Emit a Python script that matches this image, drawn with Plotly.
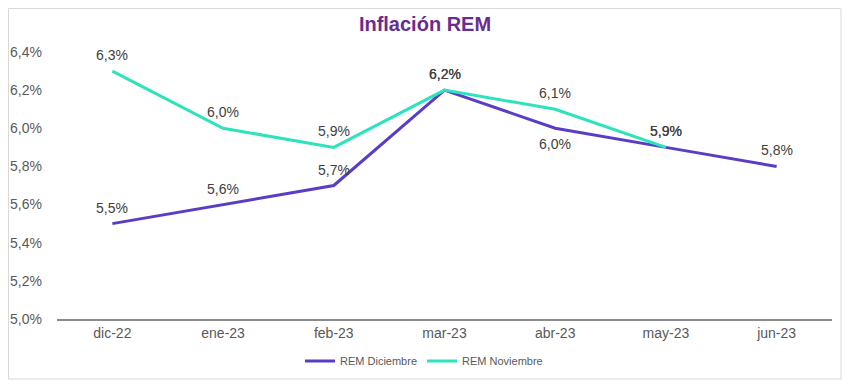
import plotly.graph_objects as go

categories = ["dic-22", "ene-23", "feb-23", "mar-23", "abr-23", "may-23", "jun-23"]
rem_diciembre = [5.5, 5.6, 5.7, 6.2, 6.0, 5.9, 5.8]
rem_noviembre = [6.3, 6.0, 5.9, 6.2, 6.1, 5.9]
dic_label_side = [1, 1, 1, 1, -1, 1, 1]   # +1 above the point, -1 below
y_ticks = [5.0, 5.2, 5.4, 5.6, 5.8, 6.0, 6.2, 6.4]

def fmt(v):
    return f"{v:.1f}%".replace(".", ",")

FONT = "Liberation Sans, Arial"

# plot area geometry (figure pixels)
L, T, PW, PH = 49, 44, 775, 267

fig = go.Figure()
fig.add_trace(go.Scatter(
    x=categories, y=rem_diciembre, name="REM Diciembre", mode="lines",
    line=dict(color="#5B3CC4", width=3), cliponaxis=False,
))
fig.add_trace(go.Scatter(
    x=categories[:len(rem_noviembre)], y=rem_noviembre, name="REM Noviembre", mode="lines",
    line=dict(color="#2DE3BD", width=3), cliponaxis=False,
))

for cat, v, side in zip(categories, rem_diciembre, dic_label_side):
    fig.add_annotation(x=cat, y=v, text=fmt(v), showarrow=False, yanchor="middle",
                       yshift=16 * side, font=dict(size=14, color="#404040", family=FONT))
for cat, v in zip(categories, rem_noviembre):
    fig.add_annotation(x=cat, y=v, text=fmt(v), showarrow=False, yanchor="middle",
                       yshift=16, font=dict(size=14, color="#404040", family=FONT))

fig.update_layout(
    width=850, height=385,
    margin=dict(l=L, r=850 - L - PW, t=T, b=385 - T - PH, autoexpand=False),
    paper_bgcolor="white", plot_bgcolor="white",
    font=dict(family=FONT, color="#595959"),
    title=dict(text="<b>Inflación REM</b>", x=417 / 850, xanchor="center",
               y=1 - 9 / 385, yanchor="top",
               font=dict(size=20, color="#6A2C91", family=FONT)),
    showlegend=True,
    legend=dict(orientation="h", x=(416 - L) / PW, xanchor="center",
                y=-(353 - (T + PH)) / PH, yanchor="middle",
                font=dict(size=11, color="#595959"), itemwidth=30, traceorder="normal",
                bgcolor="rgba(0,0,0,0)"),
    xaxis=dict(type="category", categoryorder="array", categoryarray=categories,
               range=[-0.5, 6.5], showgrid=False, showline=True, linecolor="#8c8c8c",
               linewidth=1.5, ticks="", tickfont=dict(size=14, color="#595959"), zeroline=False,
               automargin=False),
    yaxis=dict(range=[5.0, 6.4], tickvals=y_ticks, ticktext=[fmt(v) for v in y_ticks],
               showgrid=False, showline=False, zeroline=False, ticks="",
               tickfont=dict(size=14, color="#595959"), ticklabelstandoff=14, automargin=False),
)

fig.add_shape(type="rect", xref="paper", yref="paper",
              x0=(0.5 - L) / PW, x1=(833 - L) / PW,
              y0=((T + PH) - 371) / PH, y1=((T + PH) - 0.5) / PH,
              line=dict(color="#d9d9d9", width=1), fillcolor="rgba(0,0,0,0)", layer="below")

fig.write_html("out.html")
